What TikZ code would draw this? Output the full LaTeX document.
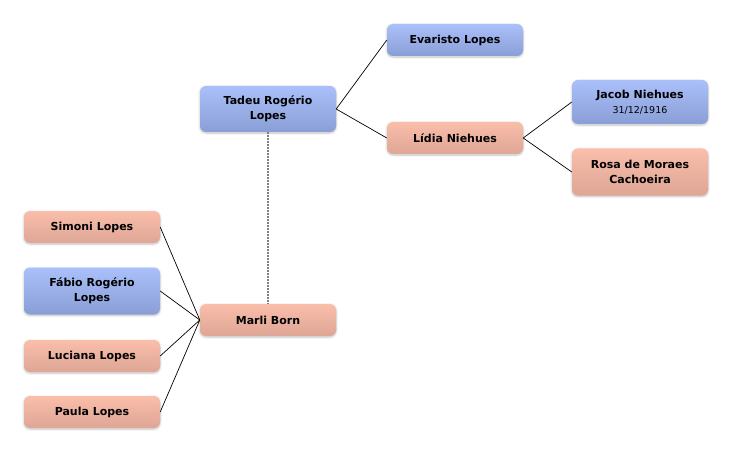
\documentclass[tikz,border=0pt]{standalone}
\usepackage{fontspec}
\setmainfont{DejaVu Sans}
\usepackage{tikz}
\usetikzlibrary{positioning, shadows.blur}
\definecolor{mantop}{RGB}{170, 192, 250}
\definecolor{manbot}{RGB}{138, 158, 214}
\definecolor{womtop}{RGB}{250, 190, 170}
\definecolor{wombot}{RGB}{222, 166, 150}
\tikzset{
  person/.style={rounded corners=6pt, minimum width=136pt, minimum height=32pt,
    align=center, font=\bfseries\fontsize{11}{15}\selectfont, inner sep=2pt,
    blur shadow={shadow blur steps=6, shadow xshift=0pt, shadow yshift=-1pt, shadow opacity=25}},
  man/.style={person, top color=mantop, bottom color=manbot},
  woman/.style={person, top color=womtop, bottom color=wombot},
  tie/.style={draw=black, line width=0.7pt},
  marriage/.style={draw=gray, line width=1.5pt, dash pattern=on 1.5pt off 1.5pt}
}

\begin{document}
\begin{tikzpicture}[x=1pt, y=-1pt]
  \useasboundingbox (0,0) rectangle (732,452);

  % ancestors
  \node[man, minimum height=46pt] (tadeu) at (268,109) {Tadeu Rogério\\Lopes};
  \node[man] (evaristo) at (455,40) {Evaristo Lopes};
  \node[woman] (lidia) at (455,138) {Lídia Niehues};
  \node[man, minimum height=44pt] (jacob) at (640,102) {Jacob Niehues\\{\mdseries\fontsize{9.5}{11}\selectfont 31/12/1916}};
  \node[woman, minimum height=47pt] (rosa) at (640,172) {Rosa de Moraes\\Cachoeira};

  % spouse and children
  \node[woman] (marli) at (268,320) {Marli Born};
  \node[woman] (simoni) at (92,227) {Simoni Lopes};
  \node[man, minimum height=47pt] (fabio) at (92,291) {Fábio Rogério\\Lopes};
  \node[woman] (luciana) at (92,356) {Luciana Lopes};
  \node[woman] (paula) at (92,412) {Paula Lopes};

  \draw[tie] (tadeu.east) -- (evaristo.west);
  \draw[tie] (tadeu.east) -- (lidia.west);
  \draw[tie] (lidia.east) -- (jacob.west);
  \draw[tie] (lidia.east) -- (rosa.west);
  \draw[marriage] (tadeu.south) -- (marli.north);
  \foreach \kid in {simoni, fabio, luciana, paula}
    \draw[tie] (marli.west) -- (\kid.east);
\end{tikzpicture}
\end{document}
